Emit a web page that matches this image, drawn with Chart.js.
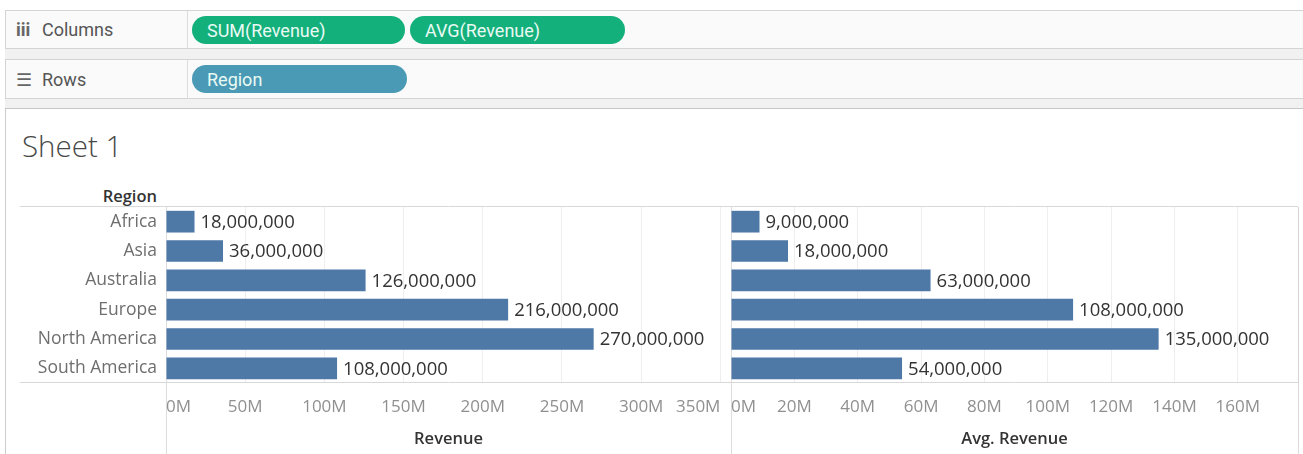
<!DOCTYPE html>
<html>
<head>
<meta charset="utf-8">
<script src="https://cdn.jsdelivr.net/npm/chart.js@4.4.1/dist/chart.umd.min.js"></script>
<style>
  html, body { margin:0; padding:0; }
  body { width:1303px; height:454px; overflow:hidden; background:#fff; position:relative; font-family:"Open Sans", sans-serif; }
  .abs { position:absolute; }
  .band { left:5px; top:48px; width:1298px; height:60px; background:#f1f1f1; }
  .shelf { left:5px; width:1298px; background:#fafafa; border-top:1px solid #d4d4d4; border-bottom:1px solid #d4d4d4; border-left:1px solid #d4d4d4; box-sizing:border-box; }
  .shelf .lbl { position:absolute; left:0; top:0; bottom:0; width:182px; border-right:1px solid #dcdcdc; box-sizing:border-box; display:flex; align-items:center; padding-left:10px; font-family:Roboto, sans-serif; font-size:18px; color:#555; }
  .shelf .lbl .ic { display:inline-block; width:26px; font-weight:700; color:#666; }
  .pill { position:absolute; height:28px; border-radius:14px; display:flex; align-items:center; padding-left:15px; box-sizing:border-box; font-family:Roboto, sans-serif; font-size:18px; color:#eafaf3; }
  .green { background:#13b07c; }
  .blue { background:#4a9ab6; }
  .sheet { left:5px; top:108px; width:1298px; height:346px; border-top:1px solid #c6c6c6; border-left:1px solid #cccccc; box-sizing:border-box; background:#fff; }
  .title { left:22px; top:131px; font-size:29.5px; line-height:29.5px; font-weight:300; color:#484848; }
  .rhead { left:0; width:157px; text-align:right; top:188px; font-size:16.5px; line-height:16.5px; font-weight:600; color:#333; }
  .chartbox { position:absolute; top:200px; height:254px; }
</style>
</head>
<body>
  <div class="abs band"></div>
  <div class="abs shelf" style="top:10px;height:39px;">
    <div class="lbl"><span class="ic">iii</span>Columns</div>
  </div>
  <div class="pill green" style="left:192px;top:16px;width:213px;">SUM(Revenue)</div>
  <div class="pill green" style="left:410px;top:16px;width:215px;">AVG(Revenue)</div>
  <div class="abs shelf" style="top:59px;height:40px;">
    <div class="lbl"><span class="ic" style="font-weight:400">&#9776;</span>Rows</div>
  </div>
  <div class="pill blue" style="left:192px;top:65px;width:215px;">Region</div>

  <div class="abs sheet"></div>
  <div class="abs title">Sheet 1</div>
  <div class="abs rhead">Region</div>

  <div class="chartbox" style="left:20px;width:711px;"><canvas id="sumChart"></canvas></div>
  <div class="chartbox" style="left:731px;width:568px;"><canvas id="avgChart"></canvas></div>

<script>
// ---- data ----
const categories = ['Africa', 'Asia', 'Australia', 'Europe', 'North America', 'South America'];
const sumRevenue = [18000000, 36000000, 126000000, 216000000, 270000000, 108000000];
const avgRevenue = [9000000, 18000000, 63000000, 108000000, 135000000, 54000000];
const sumTicks = [0, 50e6, 100e6, 150e6, 200e6, 250e6, 300e6, 350e6];
const avgTicks = [0, 20e6, 40e6, 60e6, 80e6, 100e6, 120e6, 140e6, 160e6];
const sumAxisMax = 356.7e6;
const avgAxisMax = 179e6;

const BAR = '#4e79a7';
const EDGE = '#d8d8d8';
const GRID = '#eeeeee';
const CLEAR = 'rgba(0,0,0,0)';

const valueLabels = {
  id: 'valueLabels',
  afterDatasetsDraw(chart) {
    const ctx = chart.ctx;
    const meta = chart.getDatasetMeta(0);
    const data = chart.data.datasets[0].data;
    ctx.save();
    ctx.font = '18.5px "Open Sans"';
    ctx.fillStyle = '#333333';
    ctx.textAlign = 'left';
    ctx.textBaseline = 'middle';
    meta.data.forEach((bar, i) => {
      ctx.fillText(data[i].toLocaleString('en-US'), bar.x + 6, bar.y + 1);
    });
    ctx.restore();
  }
};

const fmtM = v => (v / 1e6) + 'M';
const edgeOnly = c => (c.type !== 'tick' || c.index === 0) ? EDGE : CLEAR;

function makeChart(id, values, ticksArr, axisMax, title, isLeft) {
  const n = ticksArr.length;
  return new Chart(document.getElementById(id), {
    type: 'bar',
    data: {
      labels: categories,
      datasets: [{ data: values, backgroundColor: BAR, borderWidth: 0, categoryPercentage: 1, barPercentage: 0.74 }]
    },
    options: {
      indexAxis: 'y',
      responsive: true,
      maintainAspectRatio: false,
      animation: false,
      events: [],
      layout: { padding: { top: 7, right: isLeft ? 0 : 1, left: 0, bottom: 0 } },
      plugins: { legend: { display: false }, tooltip: { enabled: false } },
      scales: {
        x: {
          type: 'linear',
          min: 0,
          max: axisMax,
          afterBuildTicks: s => {
            const t = ticksArr.map(v => ({ value: v }));
            if (!isLeft) t.push({ value: axisMax });
            s.ticks = t;
          },
          afterFit: s => { s.height = 71; },
          grid: {
            color: c => c.index === 0 ? '#dddddd' : (!isLeft && c.index === n ? '#d4d4d4' : GRID),
            tickColor: c => (c.index === 0 || (!isLeft && c.index === n)) ? '#dddddd' : CLEAR,
            tickLength: 71,
            lineWidth: 1
          },
          border: { display: false },
          ticks: {
            align: 'inner',
            padding: -57,
            color: '#909090',
            font: { size: 17, family: 'Open Sans' },
            maxRotation: 0,
            minRotation: 0,
            autoSkip: false,
            callback: (v, i) => i < n ? fmtM(v) : ''
          },
          title: {
            display: true,
            text: title,
            color: '#333333',
            font: { size: 16.5, weight: '600', family: 'Open Sans' },
            padding: { top: 0, bottom: 5 }
          }
        },
        y: {
          afterFit: s => { s.width = isLeft ? 146 : 0; },
          grid: {
            color: edgeOnly,
            tickColor: edgeOnly,
            drawTicks: isLeft,
            tickLength: isLeft ? 146 : 0,
            lineWidth: 1
          },
          border: { display: false },
          ticks: {
            display: isLeft,
            padding: -137,
            color: '#6e6e6e',
            font: { size: 17.5, family: 'Open Sans' }
          }
        }
      }
    },
    plugins: [valueLabels]
  });
}

makeChart('sumChart', sumRevenue, sumTicks, sumAxisMax, 'Revenue', true);
makeChart('avgChart', avgRevenue, avgTicks, avgAxisMax, 'Avg. Revenue', false);
</script>
</body>
</html>
